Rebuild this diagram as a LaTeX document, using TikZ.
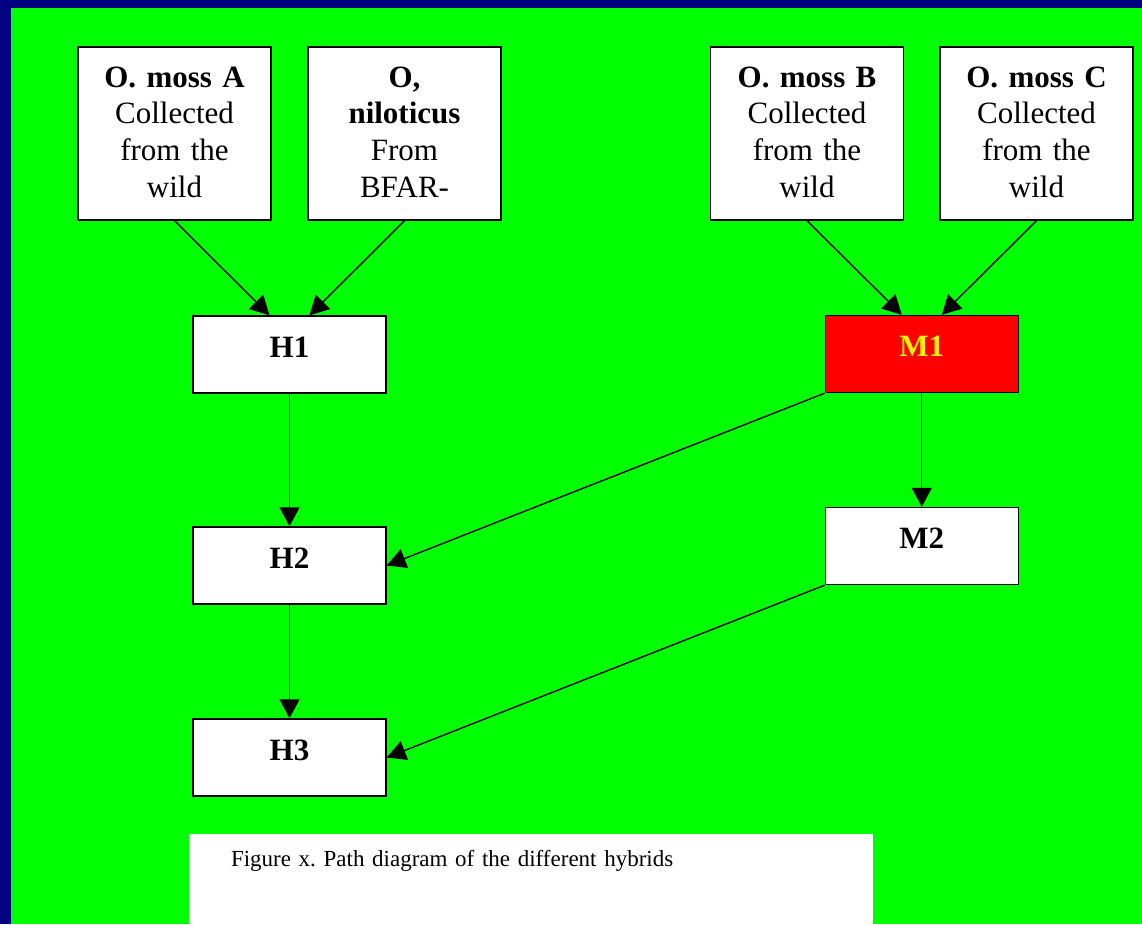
\documentclass[tikz,border=0pt]{standalone}
\usepackage{fontspec}
\setmainfont{Liberation Serif}
\usepackage{xcolor}
\usetikzlibrary{arrows.meta,calc}
\definecolor{navyback}{RGB}{0,0,128}
\definecolor{brightgreen}{RGB}{0,255,0}
\frenchspacing

\begin{document}
\begin{tikzpicture}[auto, node distance=230pt,
  >={Triangle[length=19pt,width=20pt]}, line width=1.4pt,
  font=\fontsize{31}{36.7}\selectfont]
\tikzset{parent/.style = {draw, rectangle, fill=white, text width=180pt,
  align=center, minimum width=193pt, inner sep=0pt,
  text height=40pt, text depth=133pt}}
\tikzset{hybrid/.style = {draw, rectangle, fill=white, minimum width=193pt,
  inner sep=0pt, text height=41pt, text depth=36pt,
  font=\fontsize{31}{36.7}\selectfont\bfseries}}

  \useasboundingbox (0,0) rectangle (1142pt,-924pt);
  \fill[navyback] (0,0) rectangle (1142pt,-924pt);
  \fill[brightgreen] (11pt,-8pt) rectangle (1142pt,-924pt);

  \node[parent] at (174.5pt,-133.5pt) (mossa)
    {\textbf{O. moss A}\\Collected\\from the\\wild};
  \node[parent, right of=mossa] (nilot)
    {\textbf{O,}\\\textbf{niloticus}\\From\\BFAR-};
  \node[parent, node distance=402.5pt, right of=nilot] (mossb)
    {\textbf{O. moss B}\\Collected\\from the\\wild};
  \node[parent, node distance=229.5pt, right of=mossb] (mossc)
    {\textbf{O. moss C}\\Collected\\from the\\wild};

  \coordinate (hmid) at ($(mossa)!.5!(nilot)$);
  \coordinate (mmid) at ($(mossb)!.5!(mossc)$);

  \node[hybrid, node distance=221pt, below of=hmid] (h1){H1};
  \node[hybrid, node distance=211pt, below of=h1] (h2){H2};
  \node[hybrid, node distance=192pt, below of=h2] (h3){H3};

  \node[hybrid, fill=red, text=yellow, node distance=220.5pt,
    below of=mmid] (m1){M1};
  \node[hybrid, node distance=192pt, below of=m1] (m2){M2};

  \node[fill=white, minimum width=684pt, text width=600pt,
    inner xsep=42pt, inner ysep=0pt, text height=32.7pt, text depth=57.3pt,
    align=left, font=\fontsize{23}{27}\selectfont,
    node distance=121.5pt, below of=h3, xshift=241.5pt]
    (caption){Figure x. Path diagram of the different hybrids};

  \draw[->] (mossa.south) -- ([xshift=-20pt]h1.north);
  \draw[->] (nilot.south) -- ([xshift=20pt]h1.north);
  \draw[->] (mossb.south) -- ([xshift=-20pt]m1.north);
  \draw[->] (mossc.south) -- ([xshift=20pt]m1.north);
  \draw[->] (h1) -- (h2);
  \draw[->] (h2) -- (h3);
  \draw[->] (m1) -- (m2);
  \draw[->] (m1.south west) -- (h2.east);
  \draw[->] (m2.south west) -- (h3.east);

\end{tikzpicture}
\end{document}
